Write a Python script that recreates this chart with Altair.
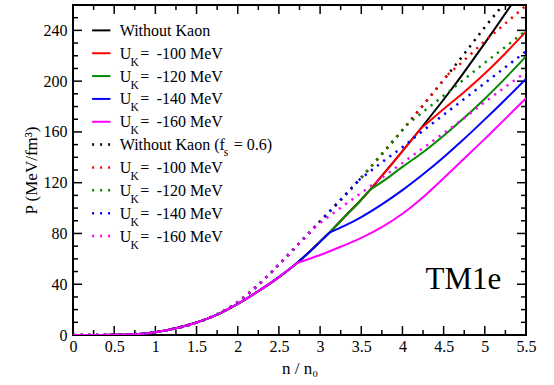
import altair as alt
import pandas as pd

FONT = "Liberation Serif"
W, H = 453, 330

# ---------------- data ----------------
N_BASE = [0.0, 0.25, 0.5, 0.75, 1.0, 1.25, 1.5, 1.75, 2.0, 2.25, 2.5, 2.72, 3.0, 3.115,
          3.3, 3.49, 3.61, 3.9, 4.22, 4.6, 5.0, 5.32]
P_BASE = [0.0, 0.0, 0.1, 0.6, 2.2, 5.3, 9.8, 16.0, 24.5, 34.5, 45.6, 56.7, 73.5, 80.7,
          93.3, 106.0, 114.6, 137.0, 162.5, 194.0, 230.0, 260.0]

N_BASE06 = [0.0, 0.25, 0.5, 0.75, 1.0, 1.25, 1.5, 1.75, 2.0, 2.25, 2.5, 2.75, 3.0, 3.25,
            3.5, 3.75, 4.0, 4.25, 4.5, 4.75, 5.0, 5.22]
P_BASE06 = [0.0, 0.0, 0.1, 0.6, 2.2, 5.3, 9.8, 16.3, 26.0, 39.5, 55.5, 72.5, 89.5, 106.5,
            124.0, 142.5, 161.5, 181.0, 201.0, 221.5, 242.5, 260.0]

N_K100 = [4.22, 4.5, 4.75, 5.0, 5.25, 5.5]
P_K100 = [162.5, 178.0, 191.5, 206.0, 222.0, 239.0]
N_K120 = [3.61, 3.8, 4.0, 4.25, 4.5, 4.75, 5.0, 5.25, 5.5]
P_K120 = [114.6, 122.8, 132.5, 144.0, 157.0, 171.1, 186.2, 202.4, 219.5]
N_K140 = [3.115, 3.3, 3.5, 3.75, 4.0, 4.25, 4.5, 4.75, 5.0, 5.25, 5.5]
P_K140 = [80.7, 86.1, 92.9, 102.9, 114.1, 126.6, 140.1, 154.6, 169.9, 185.6, 201.9]
N_K160 = [2.72, 3.0, 3.25, 3.5, 3.75, 4.0, 4.25, 4.5, 4.75, 5.0, 5.25, 5.5]
P_K160 = [56.7, 63.0, 69.5, 76.5, 85.0, 95.5, 108.5, 123.5, 139.0, 154.5, 170.5, 186.5]

N_K100_06 = [4.55, 4.75, 5.0, 5.25, 5.5]
P_K100_06 = [205.1, 216.5, 231.5, 245.5, 259.5]
N_K120_06 = [4.05, 4.25, 4.5, 4.75, 5.0, 5.25, 5.5]
P_K120_06 = [165.4, 175.8, 188.5, 201.5, 214.5, 227.0, 240.0]
N_K140_06 = [3.47, 3.75, 4.0, 4.25, 4.5, 4.75, 5.0, 5.25, 5.5]
P_K140_06 = [122.0, 136.0, 148.0, 161.0, 173.5, 186.0, 198.5, 211.0, 223.5]
N_K160_06 = [2.93, 3.25, 3.5, 3.75, 4.0, 4.25, 4.5, 4.75, 5.0, 5.25, 5.5]
P_K160_06 = [84.7, 100.3, 112.0, 123.8, 135.5, 147.3, 159.0, 171.0, 183.5, 195.5, 207.0]

U_VALUES = ["-100 MeV", "-120 MeV", "-140 MeV", "-160 MeV"]
X_TICK_LABELS = [0, 0.5, 1, 1.5, 2, 2.5, 3, 3.5, 4, 4.5, 5, 5.5]
X_MINOR = [0.25, 0.75, 1.25, 1.75, 2.25, 2.75, 3.25, 3.75, 4.25, 4.75, 5.25]
Y_TICK_LABELS = [0, 40, 80, 120, 160, 200, 240]
Y_MINOR = [10, 20, 30, 50, 60, 70, 90, 100, 110, 130, 140, 150, 170, 180, 190,
           210, 220, 230, 250]

COLORS = ["black", "#ff0000", "#008b00", "#0000ff", "#ff00ff"]

XS = alt.Scale(domain=[0, 5.5], nice=False, zero=False)
YS = alt.Scale(domain=[0, 260], nice=False, zero=False)

XAXIS = alt.Axis(values=X_TICK_LABELS, format="~g", ticks=False, tickSize=0, domain=False,
                 grid=False, labelFont=FONT, labelFontSize=16, labelColor="black",
                 labelPadding=3, labelFlush=False, labelOverlap=False,
                 title="n / n\u2080", titleFont=FONT, titleFontSize=17,
                 titleFontWeight="normal", titleColor="black", titleY=38,
                 titleBaseline="alphabetic")
YAXIS = alt.Axis(values=Y_TICK_LABELS, ticks=False, tickSize=0, domain=False, grid=False,
                 labelFont=FONT, labelFontSize=16, labelColor="black", labelPadding=6,
                 labelFlush=False, labelOverlap=False,
                 title="P (MeV/fm\u00b3)", titleFont=FONT, titleFontSize=17,
                 titleFontWeight="normal", titleColor="black", titleX=-37,
                 titleY=H / 2, titleAngle=270, titleAlign="center",
                 titleBaseline="alphabetic")


def xenc(f):
    return alt.X(f, type="quantitative", scale=XS, axis=XAXIS)


def yenc(f):
    return alt.Y(f, type="quantitative", scale=YS, axis=YAXIS)


def base_part(nb, pb, na, pa):
    n0 = na[0]
    n = [x for x in nb if x < n0] + [n0]
    p = [y for x, y in zip(nb, pb) if x < n0] + [pa[0]]
    return pd.DataFrame({"n": n, "p": p})


DOT = [2.2, 5.5]
layers = []

# inward ticks on all four sides
for vals, size in [(X_TICK_LABELS, 9), (X_MINOR, 5)]:
    d = pd.DataFrame({"v": vals})
    layers.append(alt.Chart(d).mark_rule(color="black", strokeWidth=1.5).encode(
        x=xenc("v"), y=alt.value(H), y2=alt.value(H - size)))
    layers.append(alt.Chart(d).mark_rule(color="black", strokeWidth=1.5).encode(
        x=xenc("v"), y=alt.value(0), y2=alt.value(size)))
for vals, size in [(Y_TICK_LABELS, 9), (Y_MINOR, 5)]:
    d = pd.DataFrame({"v": vals})
    layers.append(alt.Chart(d).mark_rule(color="black", strokeWidth=1.5).encode(
        y=yenc("v"), x=alt.value(0), x2=alt.value(size)))
    layers.append(alt.Chart(d).mark_rule(color="black", strokeWidth=1.5).encode(
        y=yenc("v"), x=alt.value(W), x2=alt.value(W - size)))

SOLID_K = [(N_K100, P_K100), (N_K120, P_K120), (N_K140, P_K140), (N_K160, P_K160)]
DOTTED_K = [(N_K100_06, P_K100_06), (N_K120_06, P_K120_06),
            (N_K140_06, P_K140_06), (N_K160_06, P_K160_06)]


def line(df, c, width, dash=None):
    kw = dict(color=c, strokeWidth=width, clip=True, interpolate="monotone")
    if dash is not None:
        kw["strokeDash"] = dash
    return alt.Chart(df).mark_line(**kw).encode(x=xenc("n"), y=yenc("p"))


layers.append(line(pd.DataFrame({"n": N_BASE, "p": P_BASE}), COLORS[0], 2))
for (na, pa), c in zip(SOLID_K, COLORS[1:]):
    layers.append(line(base_part(N_BASE, P_BASE, na, pa), c, 2))
    layers.append(line(pd.DataFrame({"n": na, "p": pa}), c, 2))
layers.append(line(pd.DataFrame({"n": N_BASE06, "p": P_BASE06}), COLORS[0], 2.5, DOT))
for (na, pa), c in zip(DOTTED_K, COLORS[1:]):
    layers.append(line(base_part(N_BASE06, P_BASE06, na, pa), c, 2.5, DOT))
    layers.append(line(pd.DataFrame({"n": na, "p": pa}), c, 2.5, DOT))

# ---------------- legend ----------------
LEG_X1, LEG_X2, LEG_TX = 0.232, 0.454, 0.567
LEG_Y0, LEG_DY = 240.0, 18.0
for i in range(10):
    yv = LEG_Y0 - LEG_DY * i
    c = COLORS[i % 5]
    d = pd.DataFrame({"x": [LEG_X1], "x2": [LEG_X2], "y": [yv]})
    kw = dict(color=c, strokeWidth=2 if i < 5 else 2.5)
    if i >= 5:
        kw["strokeDash"] = [2, 6]
    layers.append(alt.Chart(d).mark_rule(**kw).encode(
        x=xenc("x"), x2="x2:Q", y=yenc("y")))

main_rows = []
sub_rows = []
eq_rows = []
val_rows = []
main_rows.append({"x": LEG_TX, "y": LEG_Y0, "t": "Without Kaon"})
main_rows.append({"x": LEG_TX, "y": LEG_Y0 - 5 * LEG_DY, "t": "Without Kaon (f"})
for k, i in enumerate([1, 2, 3, 4, 6, 7, 8, 9]):
    yv = LEG_Y0 - LEG_DY * i
    main_rows.append({"x": LEG_TX, "y": yv, "t": "U"})
    sub_rows.append({"x": LEG_TX, "y": yv, "t": "K"})
    eq_rows.append({"x": LEG_TX, "y": yv, "t": "="})
    val_rows.append({"x": LEG_TX, "y": yv, "t": U_VALUES[k % 4]})


def text_layer(rows, size, dx, dy):
    return alt.Chart(pd.DataFrame(rows)).mark_text(
        align="left", baseline="alphabetic", font=FONT, fontSize=size, color="black",
        dx=dx, dy=dy).encode(x=xenc("x"), y=yenc("y"), text="t:N")


layers.append(text_layer(main_rows, 16, 0, 5.5))
layers.append(text_layer(sub_rows, 11.5, 10.7, 12.5))
layers.append(text_layer(eq_rows, 16, 20.5, 5.5))
layers.append(text_layer(val_rows, 16, 37, 5.5))
layers.append(text_layer([{"x": LEG_TX, "y": LEG_Y0 - 5 * LEG_DY, "t": "s"}], 11.5, 104, 11))
layers.append(text_layer([{"x": LEG_TX, "y": LEG_Y0 - 5 * LEG_DY, "t": "= 0.6)"}], 16, 114, 5.5))

# model label
layers.append(text_layer([{"x": 4.28, "y": 36.5, "t": "TM1e"}], 31, 0, 0))

chart = alt.layer(*layers).properties(
    width=W, height=H, autosize="none",
    padding={"left": 73, "top": 5, "right": 554 - 73 - W, "bottom": 385 - 5 - H},
).configure_view(stroke="black", strokeWidth=2)

chart.save("out.html", embed_options={"renderer": "svg", "actions": False})
